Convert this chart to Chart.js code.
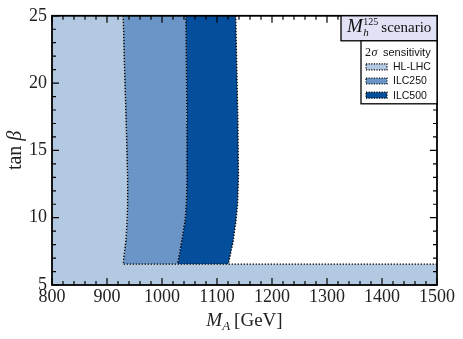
<!DOCTYPE html>
<html><head><meta charset="utf-8">
<script src="https://cdn.jsdelivr.net/npm/chart.js@4/dist/chart.umd.min.js"></script>
<style>html,body{margin:0;padding:0;background:#fff;overflow:hidden}canvas{display:block}</style>
</head><body>
<canvas id="c" width="463" height="339"></canvas>
<script>
// ---- data ----
const maRange = [800, 1500];
const tanbRange = [5, 25];
const xTicks = [800, 900, 1000, 1100, 1200, 1300, 1400, 1500];
const yTicks = [5, 10, 15, 20, 25];
const tanbLevels = [25, 21, 17, 13, 11, 9.8, 8.3, 7.5, 6.55];
const hlLhcEdgeMA  = [929.5, 932, 935, 937.5, 937.5, 936.5, 934.5, 932, 929.5];
const ilc250EdgeMA = [1043.5, 1044.5, 1045.3, 1045.5, 1044.3, 1042, 1036, 1032.5, 1028.5];
const ilc500EdgeMA = [1134, 1136, 1138, 1139, 1137.3, 1134.5, 1129.6, 1125.5, 1120.5];
const seriesNames  = ['HL-LHC', 'ILC250', 'ILC500'];
const seriesColors = ['#b3c9e1', '#6a95c6', '#044e9b'];

const SERIF = "'Liberation Serif', 'DejaVu Serif', serif";
const SANS = "'Liberation Sans', Arial, sans-serif";

function curve(edge) { return tanbLevels.map((t, i) => ({x: edge[i], y: t})); }
const floorT = tanbLevels[tanbLevels.length - 1];
const hlPoly = [{x: maRange[0], y: tanbRange[1]}, ...curve(hlLhcEdgeMA),
  {x: maRange[1], y: floorT}, {x: maRange[1], y: tanbRange[0]}, {x: maRange[0], y: tanbRange[0]}, {x: maRange[0], y: tanbRange[1]}];
const ilc250Poly = [...curve(hlLhcEdgeMA), ...curve(ilc250EdgeMA).reverse()];
ilc250Poly.push(ilc250Poly[0]);
const ilc500Poly = [...curve(ilc250EdgeMA), ...curve(ilc500EdgeMA).reverse()];
ilc500Poly.push(ilc500Poly[0]);

const dotted = {borderColor: '#000', borderWidth: 1.4, borderDash: [1.4, 1.6], fill: false,
  showLine: true, pointRadius: 0, tension: 0, order: 0, borderCapStyle: 'butt'};
const area = (label, data, color) => ({label, data, backgroundColor: color, borderWidth: 0,
  borderColor: 'rgba(0,0,0,0)', fill: 'shape', showLine: true, pointRadius: 0, tension: 0, order: 1, isArea: true});

const datasets = [
  area(seriesNames[0], hlPoly, seriesColors[0]),
  area(seriesNames[1], ilc250Poly, seriesColors[1]),
  area(seriesNames[2], ilc500Poly, seriesColors[2]),
  Object.assign({label: 'edge1', data: [...curve(hlLhcEdgeMA), {x: maRange[1], y: floorT}]}, dotted),
  Object.assign({label: 'edge2', data: curve(ilc250EdgeMA)}, dotted),
  Object.assign({label: 'edge3', data: curve(ilc500EdgeMA)}, dotted),
];

function drawDottedRect(ctx, x, y, w, h) {
  ctx.save();
  ctx.strokeStyle = '#000'; ctx.lineWidth = 1.2; ctx.setLineDash([1.2, 1.4]);
  ctx.strokeRect(x, y, w, h);
  ctx.restore();
}

const framePlugin = {
  id: 'frame',
  afterDatasetsDraw(chart) {
    const {ctx, chartArea: a, scales: {x, y}} = chart;
    ctx.save();
    ctx.strokeStyle = '#000';
    ctx.lineWidth = 1.2;
    ctx.beginPath();
    for (let v = maRange[0]; v <= maRange[1]; v += 20) {
      const px = x.getPixelForValue(v);
      const len = (v % 100 === 0) ? 7 : 4;
      ctx.moveTo(px, a.bottom); ctx.lineTo(px, a.bottom - len);
      ctx.moveTo(px, a.top); ctx.lineTo(px, a.top + len);
    }
    for (let v = tanbRange[0]; v <= tanbRange[1]; v += 1) {
      const py = y.getPixelForValue(v);
      const len = (v % 5 === 0) ? 7 : 4;
      ctx.moveTo(a.left, py); ctx.lineTo(a.left + len, py);
      ctx.moveTo(a.right, py); ctx.lineTo(a.right - len, py);
    }
    ctx.stroke();
    ctx.lineWidth = 1.8;
    ctx.strokeRect(a.left, a.top, a.right - a.left, a.bottom - a.top);

    // scenario box
    const bx = a.right - 96, by = a.top, bw = 96, bh = 25;
    ctx.fillStyle = '#e2e2f6';
    ctx.fillRect(bx, by, bw, bh);
    ctx.lineWidth = 1.3;
    ctx.strokeRect(bx, by, bw, bh);
    ctx.fillStyle = '#111';
    ctx.textBaseline = 'alphabetic';
    ctx.textAlign = 'left';
    let tx = bx + 6;
    const base = by + 16.5;
    ctx.font = `italic 19px ${SERIF}`;
    ctx.fillText('M', tx, base);
    tx += ctx.measureText('M').width + 0.5;
    ctx.font = `italic 11px ${SERIF}`;
    ctx.fillText('h', tx, base + 4);
    const wh = ctx.measureText('h').width;
    ctx.font = `10px ${SERIF}`;
    ctx.fillText('125', tx, base - 7);
    tx += Math.max(wh, ctx.measureText('125').width) + 3;
    ctx.font = `15px ${SERIF}`;
    ctx.fillText('scenario', tx, base);

    // legend box
    const lx = a.right - 76, ly = by + bh, lw = 76, lh = 63;
    ctx.fillStyle = '#fff';
    ctx.fillRect(lx, ly, lw, lh);
    ctx.lineWidth = 1.3;
    ctx.strokeStyle = '#000';
    ctx.strokeRect(lx, ly, lw, lh);
    ctx.fillStyle = '#111';
    ctx.font = `12px ${SERIF}`;
    ctx.textBaseline = 'middle';
    ctx.fillText('2', lx + 4, ly + 12);
    const w2 = ctx.measureText('2').width;
    ctx.font = `italic 12px ${SERIF}`;
    ctx.fillText('σ', lx + 4 + w2 + 0.5, ly + 12);
    ctx.font = `11px ${SANS}`;
    ctx.fillText('sensitivity', lx + 22, ly + 12);
    const areas = chart.data.datasets.filter(d => d.isArea);
    areas.forEach((d, i) => {
      const cy = ly + 26 + i * 14.2;
      ctx.fillStyle = d.backgroundColor;
      ctx.fillRect(lx + 5, cy - 3, 21, 6);
      drawDottedRect(ctx, lx + 5, cy - 3, 21, 6);
      ctx.fillStyle = '#111';
      ctx.font = `10.5px ${SANS}`;
      ctx.fillText(d.label, lx + 32, cy + 0.5);
    });
    ctx.restore();
  },
  afterDraw(chart) {
    const {ctx, chartArea: a} = chart;
    ctx.save();
    ctx.fillStyle = '#222';
    ctx.textBaseline = 'alphabetic';
    ctx.textAlign = 'left';
    // x title: M_A [GeV]
    const fBig = `italic 19px ${SERIF}`, fSub = `italic 13px ${SERIF}`, fUp = `19px ${SERIF}`;
    ctx.font = fBig; const wM = ctx.measureText('M').width;
    ctx.font = fSub; const wA = ctx.measureText('A').width;
    ctx.font = fUp; const wG = ctx.measureText('[GeV]').width;
    const gap = 4;
    let tx = (a.left + a.right) / 2 - (wM + wA + gap + wG) / 2;
    const bl = 326;
    ctx.font = fBig; ctx.fillText('M', tx, bl); tx += wM;
    ctx.font = fSub; ctx.fillText('A', tx, bl + 4); tx += wA + gap;
    ctx.font = fUp; ctx.fillText('[GeV]', tx, bl);
    // y title: tan β
    ctx.translate(20.5, (a.top + a.bottom) / 2);
    ctx.rotate(-Math.PI / 2);
    ctx.font = `20px ${SERIF}`; const wt = ctx.measureText('tan').width;
    ctx.font = `italic 20px ${SERIF}`; const wb = ctx.measureText('β').width;
    let ty = -(wt + 5 + wb) / 2;
    ctx.font = `20px ${SERIF}`; ctx.fillText('tan', ty, 0); ty += wt + 5;
    ctx.font = `italic 20px ${SERIF}`; ctx.fillText('β', ty, 0);
    ctx.restore();
  }
};

new Chart(document.getElementById('c'), {
  type: 'scatter',
  data: {datasets},
  plugins: [framePlugin],
  options: {
    responsive: false,
    animation: false,
    devicePixelRatio: 1,
    layout: {padding: {left: 0, right: 26, top: 15, bottom: 0}},
    plugins: {legend: {display: false}, tooltip: {enabled: false}},
    scales: {
      x: {
        type: 'linear', min: maRange[0], max: maRange[1],
        afterBuildTicks: s => { s.ticks = xTicks.map(v => ({value: v})); },
        ticks: {font: {family: SERIF, size: 18}, color: '#222', padding: 1, maxRotation: 0, autoSkip: false,
          callback: v => String(v)},
        grid: {display: false, drawTicks: false},
        border: {display: false},
        afterFit: s => { s.height = 54; }
      },
      y: {
        type: 'linear', min: tanbRange[0], max: tanbRange[1],
        afterBuildTicks: s => { s.ticks = yTicks.map(v => ({value: v})); },
        ticks: {font: {family: SERIF, size: 18}, color: '#222', padding: 5, autoSkip: false,
          callback: v => String(v)},
        grid: {display: false, drawTicks: false},
        border: {display: false},
        afterFit: s => { s.height = undefined; s.width = 52; }
      }
    }
  }
});
</script>
</body></html>
